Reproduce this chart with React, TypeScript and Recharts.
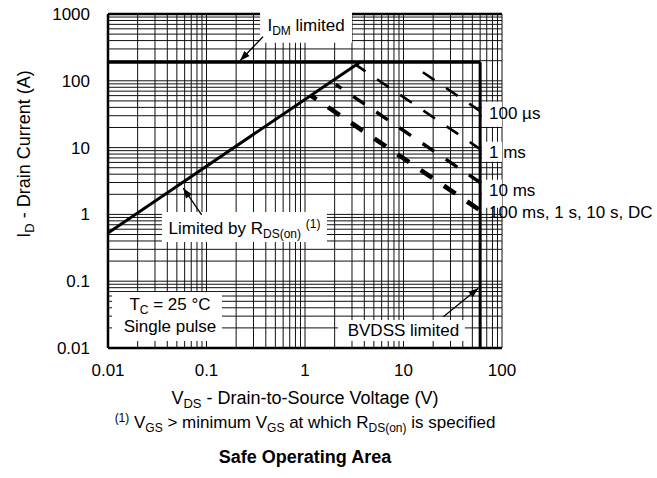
import React from 'react';
import { LineChart, Line, XAxis, YAxis, ReferenceLine, ReferenceArea } from 'recharts';

const FONT = '"Liberation Sans", Arial, Helvetica, sans-serif';

// Axis ticks
const xTicks = [0.01, 0.1, 1, 10, 100];
const yTicks = [0.01, 0.1, 1, 10, 100, 1000];

// Log grid lines
const gridX = [
  0.02, 0.03, 0.04, 0.05, 0.06, 0.07, 0.08, 0.09,
  0.1, 0.2, 0.3, 0.4, 0.5, 0.6, 0.7, 0.8, 0.9,
  1, 2, 3, 4, 5, 6, 7, 8, 9,
  10, 20, 30, 40, 50, 60, 70, 80, 90, 100,
];
const gridY = [
  0.02, 0.03, 0.04, 0.05, 0.06, 0.07, 0.08, 0.09,
  0.1, 0.2, 0.3, 0.4, 0.5, 0.6, 0.7, 0.8, 0.9,
  1, 2, 3, 4, 5, 6, 7, 8, 9,
  10, 20, 30, 40, 50, 60, 70, 80, 90,
  100, 200, 300, 400, 500, 600, 700, 800, 900,
];

// Limit lines (V, A)
const rdsLimit = [{ v: 0.01, i: 0.526 }, { v: 3.61, i: 190 }];
const idmLimit = [{ v: 0.01, i: 190 }, { v: 60, i: 190 }];
const bvdssLimit = [{ v: 60, i: 190 }, { v: 60, i: 0.01 }];

// Pulse curves (V, A)
const pulse100us = [{ v: 12, i: 176 }, { v: 60, i: 35.2 }];
const pulse1ms = [{ v: 3.29, i: 173 }, { v: 60, i: 9.5 }];
const pulse10ms = [{ v: 2.05, i: 88 }, { v: 60, i: 3.0 }];
const pulseDC = [{ v: 1.15, i: 60 }, { v: 60, i: 1.15 }];

// Annotation arrows (from, to)
const arrowIdm = [{ v: 0.375, i: 457 }, { v: 0.219, i: 200 }];
const arrowRds = [{ v: 0.0893, i: 0.983 }, { v: 0.0581, i: 2.47 }];
const arrowBvdss = [{ v: 25.4, i: 0.0294 }, { v: 57.5, i: 0.0784 }];

type Seg = { t: string; sub?: boolean; sup?: boolean };

function Rich({ x, y, segs, anchor = 'middle', size = 17, weight = 400, transform }: any) {
  let shift = 0;
  const nodes = (segs as Seg[]).map((s, k) => {
    const target = s.sub ? Math.round(size * 0.22) : s.sup ? -Math.round(size * 0.38) : 0;
    const dy = target - shift;
    shift = target;
    return (
      <tspan key={k} dy={dy} fontSize={s.sub || s.sup ? Math.round(size * 0.72) : size}>
        {s.t}
      </tspan>
    );
  });
  return (
    <text x={x} y={y} textAnchor={anchor} fontFamily={FONT} fontSize={size} fontWeight={weight} fill="#000" transform={transform}>
      {nodes}
    </text>
  );
}

const BoxText = (props: any) => {
  const vb = props.viewBox || {};
  const { lines, align = 'middle', dx = 0 } = props;
  const cx = align === 'start' ? vb.x + dx : vb.x + vb.width / 2 + dx;
  return (
    <g>
      {lines.map((ln: any, k: number) => (
        <Rich key={k} x={cx} y={vb.y + ln.dy} segs={ln.segs} anchor={align} size={17} />
      ))}
    </g>
  );
};

const YTitle = (props: any) => {
  const vb = props.viewBox || { x: 0, y: 14, width: 108, height: 334 };
  const x = vb.x + 30;
  const y = vb.y + vb.height / 2 - 27;
  return (
    <Rich x={x} y={y} transform={`rotate(-90, ${x}, ${y})`} size={18}
      segs={[{ t: 'I' }, { t: 'D', sub: true }, { t: ' - Drain Current (A)' }]} />
  );
};

const XTitle = (props: any) => {
  const vb = props.viewBox || { x: 108, y: 348, width: 394, height: 130 };
  const cx = vb.x + vb.width / 2;
  return (
    <g>
      <Rich x={cx} y={vb.y + 56} size={18}
        segs={[{ t: 'V' }, { t: 'DS', sub: true }, { t: ' - Drain-to-Source Voltage (V)' }]} />
      <Rich x={cx} y={vb.y + 80} size={17}
        segs={[
          { t: '(1)', sup: true }, { t: ' V' }, { t: 'GS', sub: true }, { t: ' > minimum V' },
          { t: 'GS', sub: true }, { t: ' at which R' }, { t: 'DS(on)', sub: true }, { t: ' is specified' },
        ]} />
      <Rich x={cx} y={vb.y + 115} size={18} weight={700} segs={[{ t: 'Safe Operating Area' }]} />
    </g>
  );
};

const makeArrowDot = (fallback: number) => (props: any) => {
  const { cx, cy, index, points } = props;
  if (index !== 1 || cx == null || cy == null) return <g key={`ad-${index}`} />;
  let ang = fallback;
  if (points && points[0] && points[0].x != null) {
    ang = (Math.atan2(cy - points[0].y, cx - points[0].x) * 180) / Math.PI;
  }
  return (
    <path key={`ad-${index}`} d="M0,0 L-10,-3.6 L-10,3.6 Z" fill="#000"
      transform={`translate(${cx},${cy}) rotate(${ang})`} />
  );
};

export default function App() {
  return (
    <div style={{ position: 'absolute', left: 0, top: 0, width: 657, height: 478, background: '#fff' }}>
      <LineChart width={657} height={478} margin={{ top: 14, right: 155, bottom: 0, left: 0 }}>
        <XAxis dataKey="v" type="number" scale="log" domain={[0.01, 100]} ticks={xTicks}
          allowDataOverflow interval={0} tickLine={false} tickSize={0} tickMargin={16} height={130}
          axisLine={{ stroke: '#000', strokeWidth: 2.5 }}
          tick={{ fill: '#000', fontSize: 17, fontFamily: FONT }}
          tickFormatter={(v: number) => String(v)}
          label={<XTitle />} />
        <YAxis type="number" scale="log" domain={[0.01, 1000]} ticks={yTicks}
          allowDataOverflow interval={0} tickLine={false} tickSize={0} tickMargin={18} width={108}
          axisLine={{ stroke: '#000', strokeWidth: 2.5 }}
          tick={{ fill: '#000', fontSize: 17, fontFamily: FONT }}
          tickFormatter={(v: number) => String(v)}
          label={<YTitle />} />

        {gridX.map((v) => (
          <ReferenceLine key={`gx${v}`} x={v} stroke="#111" strokeWidth={1} zIndex={-100} />
        ))}
        {gridY.map((v) => (
          <ReferenceLine key={`gy${v}`} y={v} stroke="#111" strokeWidth={1} zIndex={-100} />
        ))}
        <ReferenceLine y={1000} stroke="#000" strokeWidth={2.5} zIndex={-90} />

        <ReferenceArea x1={0.35} x2={3.0} y1={372} y2={1100} fill="#fff" fillOpacity={1} stroke="none"
          ifOverflow="visible" zIndex={50}
          label={<BoxText lines={[{ dy: 20, segs: [{ t: 'I' }, { t: 'DM', sub: true }, { t: ' limited' }] }]} />} />
        <ReferenceArea x1={0.0353} x2={1.67} y1={0.387} y2={1.09} fill="#fff" fillOpacity={1} stroke="none"
          zIndex={50}
          label={<BoxText lines={[{ dy: 22, segs: [{ t: 'Limited by R' }, { t: 'DS(on)', sub: true }, { t: ' ' }, { t: '(1)', sup: true }] }]} />} />
        <ReferenceArea x1={0.011} x2={0.1436} y1={0.0127} y2={0.069} fill="#fff" fillOpacity={1} stroke="none"
          zIndex={50}
          label={<BoxText dx={3} lines={[
            { dy: 18, segs: [{ t: 'T' }, { t: 'C', sub: true }, { t: ' = 25 °C' }] },
            { dy: 40, segs: [{ t: 'Single pulse' }] },
          ]} />} />
        <ReferenceArea x1={2.16} x2={42} y1={0.0127} y2={0.0263} fill="#fff" fillOpacity={1} stroke="none"
          zIndex={50}
          label={<BoxText dx={2} lines={[{ dy: 16, segs: [{ t: 'BVDSS limited' }] }]} />} />
        <ReferenceArea x1={62.7} x2={100} y1={20.5} y2={48.5} fill="#fff" fillOpacity={1} stroke="none"
          zIndex={50}
          label={<BoxText align="start" dx={7} lines={[{ dy: 17, segs: [{ t: '100 µs' }] }]} />} />
        <ReferenceArea x1={62.7} x2={100} y1={6.12} y2={12.2} fill="#fff" fillOpacity={1} stroke="none"
          zIndex={50}
          label={<BoxText align="start" dx={7} lines={[{ dy: 16, segs: [{ t: '1 ms' }] }]} />} />
        <ReferenceArea x1={62.7} x2={100} y1={1.26} y2={3.29} fill="#fff" fillOpacity={1} stroke="none"
          zIndex={50}
          label={<BoxText align="start" dx={7} lines={[
            { dy: 16, segs: [{ t: '10 ms' }] },
            { dy: 38, segs: [{ t: '100 ms, 1 s, 10 s, DC' }] },
          ]} />} />

        <Line data={idmLimit} dataKey="i" type="linear" stroke="#000" strokeWidth={3} dot={false} activeDot={false} isAnimationActive={false} />
        <Line data={rdsLimit} dataKey="i" type="linear" stroke="#000" strokeWidth={3} dot={false} activeDot={false} isAnimationActive={false} />
        <Line data={bvdssLimit} dataKey="i" type="linear" stroke="#000" strokeWidth={3} dot={false} activeDot={false} isAnimationActive={false} />

        <Line data={pulse100us} dataKey="i" type="linear" stroke="#000" strokeWidth={2.6} strokeDasharray="14 14" strokeDashoffset={14} dot={false} activeDot={false} isAnimationActive={false} />
        <Line data={pulse1ms} dataKey="i" type="linear" stroke="#000" strokeWidth={2.6} strokeDasharray="14 14" strokeDashoffset={2.5} dot={false} activeDot={false} isAnimationActive={false} />
        <Line data={pulse10ms} dataKey="i" type="linear" stroke="#000" strokeWidth={3.4} strokeDasharray="14 14" strokeDashoffset={7} dot={false} activeDot={false} isAnimationActive={false} />
        <Line data={pulseDC} dataKey="i" type="linear" stroke="#000" strokeWidth={4.6} strokeDasharray="14 14" strokeDashoffset={7.4} dot={false} activeDot={false} isAnimationActive={false} />

        <Line data={arrowIdm} dataKey="i" type="linear" stroke="#000" strokeWidth={1.3} dot={makeArrowDot(135)} activeDot={false} isAnimationActive={false} />
        <Line data={arrowRds} dataKey="i" type="linear" stroke="#000" strokeWidth={1.3} dot={makeArrowDot(-125)} activeDot={false} isAnimationActive={false} />
        <Line data={arrowBvdss} dataKey="i" type="linear" stroke="#000" strokeWidth={1.3} dot={makeArrowDot(-40)} activeDot={false} isAnimationActive={false} />
      </LineChart>
    </div>
  );
}
